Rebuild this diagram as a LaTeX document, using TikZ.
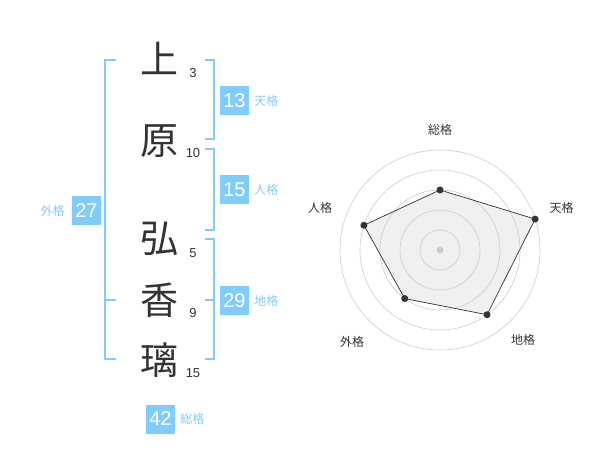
\documentclass[tikz,border=0pt]{standalone}
\usepackage{fontspec}
\setmainfont{Liberation Sans}
\newfontfamily\jpfont{Noto Sans CJK JP}
\usetikzlibrary{positioning}

\definecolor{kakublue}{RGB}{128,204,250}
\definecolor{inktext}{RGB}{51,51,51}

\begin{document}
\begin{tikzpicture}[x=1pt,y=-1pt,
    kanji/.style={font=\jpfont\fontsize{38}{38}\selectfont, text=inktext, inner sep=0pt},
    strokes/.style={font=\fontsize{13}{13}\selectfont, text=inktext, inner sep=0pt},
    kakubox/.style={fill=kakublue, text=white, font=\fontsize{20}{20}\selectfont, minimum size=29pt, inner sep=0pt},
    kakuname/.style={font=\jpfont\fontsize{12}{12}\selectfont, text=kakublue, inner sep=0pt},
    brace/.style={draw=kakublue, line width=2pt},
    ring/.style={draw=black!20, line width=0.6pt},
    axislabel/.style={font=\jpfont\fontsize{12}{12}\selectfont, text=inktext, inner sep=0pt},
    dot/.style={circle, inner sep=0pt, minimum size=7pt}]
  \useasboundingbox (0,0) rectangle (600,470);

  % name and stroke counts
  \node[kanji] (k1) at (159,58) {上};
  \node[kanji] (k2) at (159,141) {原};
  \node[kanji] (k3) at (159,239) {弘};
  \node[kanji] (k4) at (159,300) {香};
  \node[kanji] (k5) at (159,360) {璃};
  \node[strokes] (s1) at (193,73) {3};
  \node[strokes] (s2) at (193,153) {10};
  \node[strokes] (s3) at (193,253) {5};
  \node[strokes] (s4) at (193,313) {9};
  \node[strokes] (s5) at (193,373) {15};

  % brackets
  \draw[brace] (205,60) -- (214,60) -- (214,139) -- (205,139);
  \draw[brace] (205,149) -- (214,149) -- (214,230) -- (205,230);
  \draw[brace] (205,239) -- (214,239) -- (214,359) -- (205,359);
  \draw[brace] (205,300) -- (214,300);
  \draw[brace] (116,60) -- (105,60) -- (105,359) -- (116,359);
  \draw[brace] (105,300) -- (116,300);

  % kaku values
  \node[kakubox] (ten) at (234.5,100.5) {13};
  \node[kakubox] (jin) at (234.5,190) {15};
  \node[kakubox] (chi) at (234.5,300.5) {29};
  \node[kakubox] (gai) at (86.5,210.5) {27};
  \node[kakubox] (so) at (160.5,419) {42};
  \node[kakuname, right=5pt of ten] {天格};
  \node[kakuname, right=5pt of jin] {人格};
  \node[kakuname, right=5pt of chi] {地格};
  \node[kakuname, left=7pt of gai] {外格};
  \node[kakuname, right=5pt of so] {総格};

  % radar chart
  \begin{scope}[shift={(440,250)}]
    \node[dot] (p-so) at (-90:60) {};
    \node[dot] (p-ten) at (-18:100) {};
    \node[dot] (p-chi) at (54:80) {};
    \node[dot] (p-gai) at (126:60) {};
    \node[dot] (p-jin) at (198:80) {};
    \fill[black!6]
      (p-so.center) -- (p-ten.center) -- (p-chi.center) -- (p-gai.center) -- (p-jin.center) -- cycle;
    \foreach \r in {20,40,60,80,100}
      \draw[ring] (0,0) circle (\r);
    \fill[black!20] (0,0) circle (3.5);
    \draw[inktext, line width=0.7pt]
      (p-so.center) -- (p-ten.center) -- (p-chi.center) -- (p-gai.center) -- (p-jin.center) -- cycle;
    \foreach \p in {so,ten,chi,gai,jin}
      \fill[inktext] (p-\p) circle (3.5);
    \node[axislabel] (l-so) at (0,-120) {総格};
    \node[axislabel] (l-ten) at (121.7,-42) {天格};
    \node[axislabel] (l-chi) at (83,90) {地格};
    \node[axislabel] (l-gai) at (-88,91.7) {外格};
    \node[axislabel] (l-jin) at (-120,-42) {人格};
  \end{scope}
\end{tikzpicture}
\end{document}
